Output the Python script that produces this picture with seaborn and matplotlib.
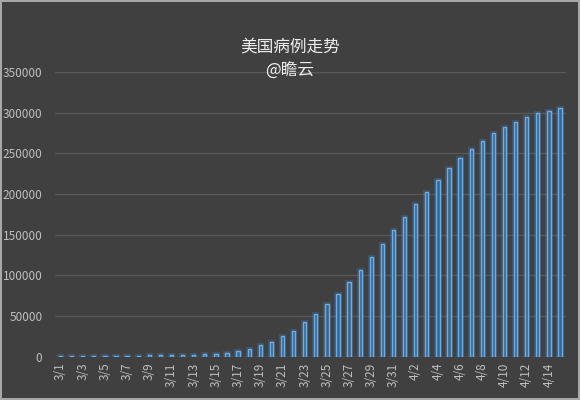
import matplotlib
matplotlib.use("Agg")
import matplotlib.pyplot as plt
import matplotlib.patheffects as pe
import seaborn as sns
import pandas as pd

dates = [f"3/{d}" for d in range(1, 32)] + [f"4/{d}" for d in range(1, 16)]
cases = [500, 550, 600, 650, 700, 750, 800, 1500, 1600, 1700,
         1800, 1900, 2200, 3000, 3400, 5000, 7100, 10000, 15000, 18600,
         25000, 31300, 43200, 53000, 65400, 77200, 91600, 106800, 122400, 138800,
         155300, 171800, 187500, 203000, 217700, 231600, 244000, 255500, 265800, 274800,
         282600, 288800, 294100, 299000, 302300, 305200]
title_line1 = "美国病例走势"
title_line2 = "@瞻云"

df = pd.DataFrame({"date": dates, "cases": cases})

sns.set_style("dark")
plt.rcParams["font.family"] = ["Noto Sans CJK SC", "DejaVu Sans"]

BG = "#404040"
fig = plt.figure(figsize=(5.8, 4.0), dpi=100, facecolor=BG,
                 edgecolor="#a8a8a8", linewidth=1.5)
ax = fig.add_axes([0.0948, 0.108, 0.975 - 0.0948, 0.82 - 0.108])
ax.set_facecolor(BG)

sns.barplot(data=df, x="date", y="cases", ax=ax, width=0.3,
            color="#3a6690", edgecolor="#6aaeea", linewidth=1.0,
            saturation=1)
for p in ax.patches:
    p.set_path_effects([pe.Stroke(linewidth=3, foreground="#4a8cd0", alpha=0.25),
                        pe.Normal()])
    p.set_zorder(3)

ax.set_ylim(0, 350000)
ax.set_xlim(-0.5, len(dates) - 0.5)
ax.set_yticks(range(0, 350001, 50000))
ax.set_yticklabels([str(v) for v in range(0, 350001, 50000)])
ax.yaxis.grid(True, color="#595959", linewidth=1.0)
ax.xaxis.grid(False)
ax.set_axisbelow(True)
ax.set_xticks(range(0, len(dates), 2))
ax.set_xticklabels(dates[::2], rotation=90)
ax.tick_params(axis="both", colors="#bfbfbf", labelsize=8.5, length=0, pad=4)
ax.tick_params(axis="y", pad=9)
for lab in ax.get_xticklabels() + ax.get_yticklabels():
    lab.set_color("#bfbfbf")
ax.set_xlabel("")
ax.set_ylabel("")
for s in ax.spines.values():
    s.set_visible(False)
ax.axhline(0, color="#595959", linewidth=1.0, zorder=1)

fig.text(0.5, 0.882, title_line1, ha="center", va="center", color="#eeeeee",
         fontsize=12)
fig.text(0.5, 0.822, title_line2, ha="center", va="center", color="#eeeeee",
         fontsize=12)

fig.savefig("out.png", dpi=100, facecolor=fig.get_facecolor(),
            edgecolor=fig.get_edgecolor())
